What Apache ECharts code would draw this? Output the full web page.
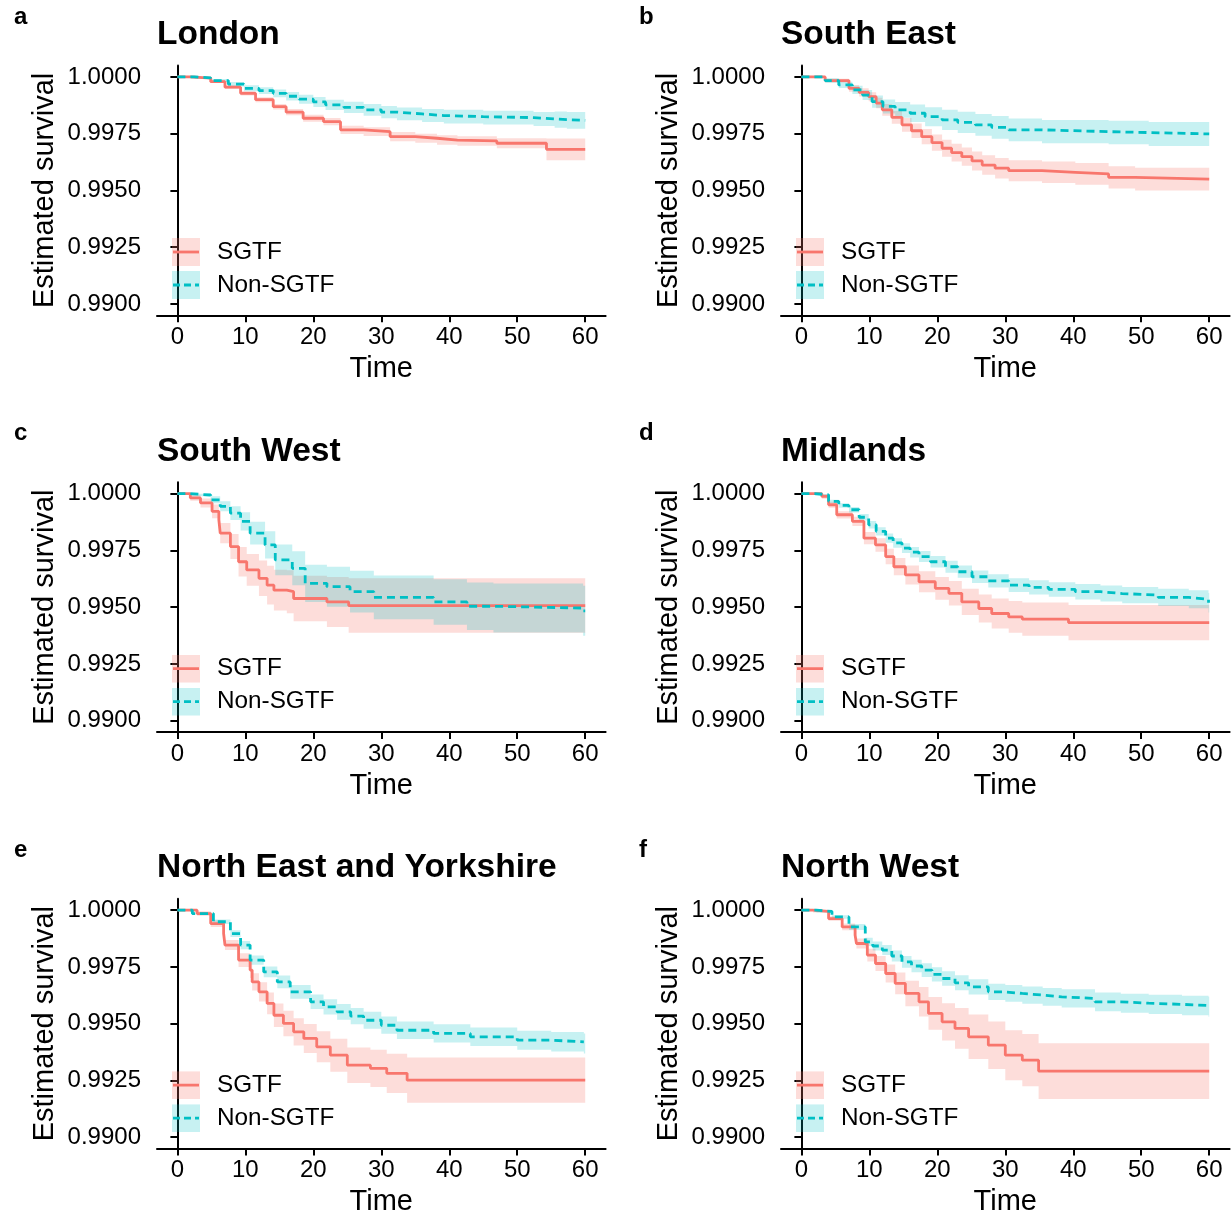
<!DOCTYPE html>
<html>
<head>
<meta charset="utf-8">
<script src="https://cdn.jsdelivr.net/npm/echarts@6/dist/echarts.min.js"></script>
<style>
html,body{margin:0;padding:0;background:#fff;}
#chart{width:1232px;height:1220px;}
</style>
</head>
<body>
<div id="chart"></div>
<script>
// ---------- DATA ----------
const panelLetters = ['a', 'b', 'c', 'd', 'e', 'f'];
const panelTitles = ['London', 'South East', 'South West', 'Midlands', 'North East and Yorkshire', 'North West'];
const groupNames = ['SGTF', 'Non-SGTF'];
const xTicks = [0, 10, 20, 30, 40, 50, 60];
const yTicks = [0.99, 0.9925, 0.995, 0.9975, 1.0];

// a: London
const aSgtfTime = [0, 2, 4.9, 7, 9.3, 11.5, 14.1, 16, 18.5, 21.5, 24, 27.4, 31.3, 35, 38.2, 41.2, 47, 54.3, 60];
const aSgtfSurv = [1.00000, 0.99995, 0.99979, 0.99955, 0.99928, 0.99900, 0.99869, 0.99845, 0.99818, 0.99803, 0.99767, 0.99759, 0.99737, 0.99730, 0.99722, 0.99718, 0.99708, 0.99681, 0.99681];
const aSgtfLow  = [1.00000, 0.99992, 0.99973, 0.99947, 0.99918, 0.99889, 0.99857, 0.99831, 0.99803, 0.99787, 0.99749, 0.99740, 0.99717, 0.99710, 0.99701, 0.99697, 0.99686, 0.99633, 0.99633];
const aSgtfHigh = [1.00000, 0.99998, 0.99985, 0.99963, 0.99938, 0.99911, 0.99881, 0.99859, 0.99833, 0.99819, 0.99785, 0.99778, 0.99757, 0.99750, 0.99743, 0.99739, 0.99730, 0.99729, 0.99729];
const aNonTime = [0, 2.5, 4.9, 7.5, 9.8, 12, 14.1, 16, 17.9, 20, 21.8, 24.5, 27.4, 30, 32.3, 36, 39.2, 45, 52.4, 55.5, 57.3, 60];
const aNonSurv = [1.00000, 0.99996, 0.99984, 0.99968, 0.99950, 0.99940, 0.99928, 0.99915, 0.99902, 0.99890, 0.99877, 0.99866, 0.99855, 0.99845, 0.99837, 0.99830, 0.99825, 0.99821, 0.99815, 0.99812, 0.99809, 0.99806];
const aNonLow  = [1.00000, 0.99993, 0.99977, 0.99958, 0.99937, 0.99925, 0.99911, 0.99896, 0.99882, 0.99868, 0.99854, 0.99841, 0.99829, 0.99818, 0.99809, 0.99801, 0.99795, 0.99791, 0.99784, 0.99776, 0.99772, 0.99768];
const aNonHigh = [1.00000, 0.99999, 0.99991, 0.99978, 0.99963, 0.99955, 0.99945, 0.99934, 0.99922, 0.99912, 0.99900, 0.99891, 0.99881, 0.99872, 0.99865, 0.99859, 0.99855, 0.99851, 0.99846, 0.99848, 0.99846, 0.99844];

// b: South East
const bSgtfTime = [0, 3.5, 7, 8.5, 9.9, 11, 11.9, 13.3, 14.8, 16.2, 17.7, 19.2, 20.7, 22.1, 23.6, 25.1, 26.6, 28.5, 30.5, 35.4, 40.3, 45.2, 49.1, 60];
const bSgtfSurv = [1.00000, 0.99984, 0.99950, 0.99932, 0.99913, 0.99885, 0.99855, 0.99822, 0.99789, 0.99763, 0.99737, 0.99711, 0.99686, 0.99667, 0.99649, 0.99630, 0.99612, 0.99598, 0.99587, 0.99580, 0.99573, 0.99558, 0.99550, 0.99550];
const bSgtfLow  = [1.00000, 0.99976, 0.99935, 0.99914, 0.99893, 0.99862, 0.99829, 0.99794, 0.99759, 0.99731, 0.99703, 0.99675, 0.99649, 0.99628, 0.99609, 0.99588, 0.99569, 0.99553, 0.99541, 0.99533, 0.99525, 0.99509, 0.99500, 0.99500];
const bSgtfHigh = [1.00000, 0.99992, 0.99965, 0.99950, 0.99933, 0.99908, 0.99881, 0.99850, 0.99819, 0.99795, 0.99771, 0.99747, 0.99723, 0.99706, 0.99689, 0.99672, 0.99655, 0.99643, 0.99633, 0.99627, 0.99621, 0.99607, 0.99600, 0.99600];
const bNonTime = [0, 3.5, 5.5, 7.5, 9, 10.4, 12, 13.8, 16, 18.2, 20.7, 23, 25.6, 28, 30.5, 35.4, 45.2, 51.1, 60];
const bNonSurv = [1.00000, 0.99984, 0.99965, 0.99943, 0.99920, 0.99891, 0.99870, 0.99855, 0.99840, 0.99825, 0.99811, 0.99800, 0.99789, 0.99778, 0.99767, 0.99759, 0.99755, 0.99749, 0.99749];
const bNonLow  = [1.00000, 0.99974, 0.99951, 0.99925, 0.99898, 0.99864, 0.99839, 0.99820, 0.99801, 0.99783, 0.99766, 0.99753, 0.99741, 0.99728, 0.99717, 0.99708, 0.99703, 0.99696, 0.99696];
const bNonHigh = [1.00000, 0.99994, 0.99979, 0.99961, 0.99942, 0.99918, 0.99901, 0.99890, 0.99879, 0.99867, 0.99856, 0.99847, 0.99837, 0.99828, 0.99817, 0.99810, 0.99807, 0.99802, 0.99802];

// c: South West
const cSgtfTime = [0, 1.9, 3.4, 5.1, 6.1, 6.3, 7.8, 9.0, 10.2, 12, 13.2, 14.2, 16.1, 17.1, 22, 25.2, 60];
const cSgtfSurv = [1.00000, 0.99981, 0.99959, 0.99922, 0.99885, 0.99826, 0.99767, 0.99700, 0.99664, 0.99627, 0.99597, 0.99575, 0.99568, 0.99538, 0.99523, 0.99507, 0.99507];
const cSgtfLow  = [1.00000, 0.99969, 0.99939, 0.99892, 0.99847, 0.99781, 0.99712, 0.99635, 0.99594, 0.99549, 0.99512, 0.99485, 0.99473, 0.99438, 0.99413, 0.99387, 0.99387];
const cSgtfHigh = [1.00000, 0.99993, 0.99979, 0.99952, 0.99923, 0.99871, 0.99822, 0.99765, 0.99734, 0.99705, 0.99682, 0.99665, 0.99663, 0.99638, 0.99633, 0.99627, 0.99627];
const cNonTime = [0, 1.9, 4.9, 6.3, 7.8, 9.3, 10.7, 12.9, 14.4, 16.9, 18.8, 22, 25.4, 28.9, 37.7, 42.6, 46.5, 59.7, 60];
const cNonSurv = [1.00000, 0.99994, 0.99973, 0.99944, 0.99914, 0.99878, 0.99826, 0.99774, 0.99708, 0.99671, 0.99605, 0.99590, 0.99568, 0.99543, 0.99523, 0.99504, 0.99496, 0.99484, 0.99484];
const cNonLow  = [1.00000, 0.99988, 0.99958, 0.99922, 0.99884, 0.99838, 0.99776, 0.99714, 0.99640, 0.99596, 0.99523, 0.99502, 0.99476, 0.99447, 0.99423, 0.99399, 0.99388, 0.99374, 0.99374];
const cNonHigh = [1.00000, 1.00000, 0.99988, 0.99966, 0.99944, 0.99918, 0.99876, 0.99834, 0.99776, 0.99746, 0.99687, 0.99678, 0.99660, 0.99639, 0.99623, 0.99609, 0.99604, 0.99594, 0.99594];

// d: Midlands
const dSgtfTime = [0, 3, 4, 5.2, 7.5, 9.2, 10.9, 12.4, 13.6, 15.3, 17.3, 19.7, 21.7, 23.6, 26.1, 28, 30.5, 32.5, 39.3, 60];
const dSgtfSurv = [1.00000, 0.99988, 0.99951, 0.99907, 0.99878, 0.99804, 0.99774, 0.99723, 0.99678, 0.99642, 0.99612, 0.99583, 0.99561, 0.99523, 0.99494, 0.99472, 0.99457, 0.99447, 0.99432, 0.99432];
const dSgtfLow  = [1.00000, 0.99978, 0.99938, 0.99891, 0.99858, 0.99777, 0.99744, 0.99689, 0.99640, 0.99600, 0.99566, 0.99533, 0.99507, 0.99465, 0.99432, 0.99406, 0.99387, 0.99374, 0.99354, 0.99354];
const dSgtfHigh = [1.00000, 0.99998, 0.99964, 0.99923, 0.99898, 0.99831, 0.99804, 0.99757, 0.99716, 0.99684, 0.99658, 0.99633, 0.99615, 0.99581, 0.99556, 0.99538, 0.99527, 0.99520, 0.99510, 0.99510];
const dNonTime = [0, 2, 4, 5.5, 7, 8.5, 9.9, 11, 12.4, 13.5, 14.8, 16, 17.3, 19, 21.2, 23, 25.1, 27.5, 30.5, 33.5, 36.4, 40.3, 44, 47.2, 52.5, 57, 59.9, 60];
const dNonSurv = [1.00000, 0.99995, 0.99966, 0.99948, 0.99929, 0.99896, 0.99863, 0.99834, 0.99804, 0.99783, 0.99760, 0.99742, 0.99723, 0.99700, 0.99678, 0.99656, 0.99634, 0.99616, 0.99597, 0.99587, 0.99578, 0.99568, 0.99560, 0.99553, 0.99543, 0.99535, 0.99519, 0.99519];
const dNonLow  = [1.00000, 0.99992, 0.99959, 0.99938, 0.99917, 0.99882, 0.99847, 0.99816, 0.99784, 0.99762, 0.99738, 0.99719, 0.99699, 0.99675, 0.99652, 0.99629, 0.99606, 0.99587, 0.99567, 0.99556, 0.99546, 0.99534, 0.99525, 0.99517, 0.99505, 0.99495, 0.99476, 0.99476];
const dNonHigh = [1.00000, 0.99998, 0.99973, 0.99958, 0.99941, 0.99910, 0.99879, 0.99852, 0.99824, 0.99804, 0.99782, 0.99765, 0.99747, 0.99725, 0.99704, 0.99683, 0.99662, 0.99645, 0.99627, 0.99618, 0.99610, 0.99602, 0.99595, 0.99589, 0.99581, 0.99575, 0.99562, 0.99562];

// e: North East and Yorkshire
const eSgtfTime = [0, 2.9, 4.9, 6.8, 7, 9, 10.7, 11, 12, 13.2, 14.2, 15.6, 17.1, 18.6, 20.5, 22.5, 25, 28.4, 30.8, 33.8, 60];
const eSgtfSurv = [1.00000, 0.99985, 0.99941, 0.99897, 0.99846, 0.99780, 0.99736, 0.99684, 0.99640, 0.99589, 0.99537, 0.99501, 0.99464, 0.99435, 0.99398, 0.99361, 0.99317, 0.99303, 0.99281, 0.99251, 0.99251];
const eSgtfLow  = [1.00000, 0.99975, 0.99926, 0.99877, 0.99824, 0.99750, 0.99701, 0.99646, 0.99598, 0.99541, 0.99485, 0.99445, 0.99404, 0.99371, 0.99330, 0.99288, 0.99239, 0.99221, 0.99195, 0.99151, 0.99151];
const eSgtfHigh = [1.00000, 0.99995, 0.99956, 0.99917, 0.99868, 0.99810, 0.99771, 0.99722, 0.99682, 0.99637, 0.99589, 0.99557, 0.99524, 0.99499, 0.99466, 0.99434, 0.99395, 0.99385, 0.99367, 0.99351, 0.99351];
const eNonTime = [0, 2.2, 5.3, 7.8, 9.3, 10.7, 12.7, 14.7, 16.6, 19.6, 21.5, 23.5, 25.5, 27.4, 30, 32.3, 37.7, 43.1, 50, 55, 59.8, 60];
const eNonSurv = [1.00000, 0.99985, 0.99949, 0.99897, 0.99846, 0.99780, 0.99728, 0.99684, 0.99640, 0.99596, 0.99574, 0.99552, 0.99533, 0.99515, 0.99493, 0.99471, 0.99457, 0.99442, 0.99427, 0.99420, 0.99413, 0.99413];
const eNonLow  = [1.00000, 0.99980, 0.99939, 0.99882, 0.99828, 0.99760, 0.99704, 0.99656, 0.99610, 0.99564, 0.99540, 0.99517, 0.99497, 0.99478, 0.99455, 0.99432, 0.99417, 0.99401, 0.99385, 0.99377, 0.99369, 0.99369];
const eNonHigh = [1.00000, 0.99990, 0.99959, 0.99912, 0.99864, 0.99800, 0.99752, 0.99712, 0.99670, 0.99628, 0.99608, 0.99587, 0.99569, 0.99552, 0.99531, 0.99510, 0.99497, 0.99483, 0.99469, 0.99463, 0.99457, 0.99457];

// f: North West
const fSgtfTime = [0, 1.7, 4, 6, 7.9, 8.1, 9.7, 10.9, 12.4, 13.8, 15.3, 17.3, 18.7, 20.7, 22.6, 24.6, 27.5, 30, 32.5, 34.9, 60];
const fSgtfSurv = [1.00000, 0.99995, 0.99963, 0.99926, 0.99890, 0.99853, 0.99802, 0.99765, 0.99721, 0.99677, 0.99633, 0.99596, 0.99545, 0.99508, 0.99479, 0.99442, 0.99405, 0.99361, 0.99339, 0.99291, 0.99291];
const fSgtfLow  = [1.00000, 0.99990, 0.99953, 0.99911, 0.99870, 0.99831, 0.99774, 0.99732, 0.99681, 0.99629, 0.99577, 0.99531, 0.99473, 0.99426, 0.99389, 0.99344, 0.99300, 0.99251, 0.99224, 0.99168, 0.99168];
const fSgtfHigh = [1.00000, 1.00000, 0.99973, 0.99941, 0.99910, 0.99875, 0.99830, 0.99798, 0.99761, 0.99725, 0.99689, 0.99661, 0.99617, 0.99590, 0.99569, 0.99540, 0.99510, 0.99471, 0.99454, 0.99414, 0.99414];
const fNonTime = [0, 2.2, 4.5, 7, 9.4, 10.5, 11.9, 13.3, 14.8, 16.2, 17.7, 19.2, 20.7, 22.6, 24.6, 27.5, 30, 32.5, 35.5, 38.3, 43.2, 47, 51.1, 56, 59.9, 60];
const fNonSurv = [1.00000, 0.99994, 0.99970, 0.99926, 0.99860, 0.99842, 0.99824, 0.99798, 0.99772, 0.99754, 0.99736, 0.99717, 0.99699, 0.99680, 0.99662, 0.99640, 0.99633, 0.99626, 0.99618, 0.99611, 0.99596, 0.99590, 0.99585, 0.99580, 0.99574, 0.99574];
const fNonLow  = [1.00000, 0.99990, 0.99962, 0.99913, 0.99842, 0.99822, 0.99802, 0.99774, 0.99746, 0.99726, 0.99706, 0.99686, 0.99667, 0.99647, 0.99628, 0.99604, 0.99596, 0.99588, 0.99579, 0.99571, 0.99555, 0.99548, 0.99543, 0.99537, 0.99530, 0.99530];
const fNonHigh = [1.00000, 0.99998, 0.99978, 0.99939, 0.99878, 0.99862, 0.99846, 0.99822, 0.99798, 0.99782, 0.99766, 0.99748, 0.99731, 0.99713, 0.99696, 0.99676, 0.99670, 0.99664, 0.99657, 0.99651, 0.99637, 0.99632, 0.99627, 0.99623, 0.99618, 0.99618];

// ---------- BUILD ----------
const panelData = [
  [[aSgtfTime, aSgtfSurv, aSgtfLow, aSgtfHigh], [aNonTime, aNonSurv, aNonLow, aNonHigh]],
  [[bSgtfTime, bSgtfSurv, bSgtfLow, bSgtfHigh], [bNonTime, bNonSurv, bNonLow, bNonHigh]],
  [[cSgtfTime, cSgtfSurv, cSgtfLow, cSgtfHigh], [cNonTime, cNonSurv, cNonLow, cNonHigh]],
  [[dSgtfTime, dSgtfSurv, dSgtfLow, dSgtfHigh], [dNonTime, dNonSurv, dNonLow, dNonHigh]],
  [[eSgtfTime, eSgtfSurv, eSgtfLow, eSgtfHigh], [eNonTime, eNonSurv, eNonLow, eNonHigh]],
  [[fSgtfTime, fSgtfSurv, fSgtfLow, fSgtfHigh], [fNonTime, fNonSurv, fNonLow, fNonHigh]]
];

const FONT = '"Liberation Sans", Arial, Helvetica, sans-serif';
const COLORS = ['#F8766D', '#00BFC4'];
const BAND = ['rgba(248,118,109,0.25)', 'rgba(0,191,196,0.22)'];
const colLeft = [157, 781];
const rowTop = [65.6, 482.3, 898.8];
const gridW = 448.6, gridH = 249.7;
const rowShift = [0, 416.7, 833.2];

function iconSvg(color, fill, dashed) {
  const svg = '<svg xmlns="http://www.w3.org/2000/svg" width="40" height="28" viewBox="0 0 40 28">' +
    '<rect x="0" y="0" width="28" height="28" fill="' + fill + '"/>' +
    '<line x1="1" y1="14" x2="27" y2="14" stroke="' + color + '" stroke-width="2.8"' +
    (dashed ? ' stroke-dasharray="7 4"' : '') + '/></svg>';
  return 'image://data:image/svg+xml;charset=utf-8,' + encodeURIComponent(svg);
}
const icons = [iconSvg(COLORS[0], BAND[0], false), iconSvg(COLORS[1], BAND[1], true)];

// stepped confidence ribbon drawn as one polygon through the axis scales
function bandRenderer(time, low, high, fill) {
  return function (params, api) {
    if (params.dataIndex !== 0) return null;
    const n = time.length, pts = [];
    for (let k = 0; k < n; k++) {
      const x1 = k < n - 1 ? time[k + 1] : time[k];
      pts.push(api.coord([time[k], high[k]]), api.coord([x1, high[k]]));
    }
    for (let k = n - 1; k >= 0; k--) {
      const x1 = k < n - 1 ? time[k + 1] : time[k];
      pts.push(api.coord([x1, low[k]]), api.coord([time[k], low[k]]));
    }
    return {type: 'polygon', shape: {points: pts}, style: {fill: fill}, silent: true};
  };
}

const grid = [], xAxis = [], yAxis = [], title = [], legend = [], bandSeries = [], lineSeries = [];

panelData.forEach((groups, i) => {
  const col = i % 2, row = Math.floor(i / 2);
  grid.push({left: colLeft[col], top: rowTop[row], width: gridW, height: gridH, containLabel: false});
  xAxis.push({
    type: 'value', gridIndex: i, min: -3, max: 63,
    axisLine: {show: true, lineStyle: {color: '#000', width: 2}},
    axisTick: {show: true, length: 7, customValues: xTicks, lineStyle: {color: '#000', width: 2}},
    axisLabel: {customValues: xTicks, fontSize: 24, color: '#000', margin: 10, fontFamily: FONT},
    splitLine: {show: false},
    name: 'Time', nameLocation: 'middle', nameGap: 39,
    nameTextStyle: {fontSize: 29, color: '#000', fontFamily: FONT}
  });
  yAxis.push({
    type: 'value', gridIndex: i, min: 0.9895, max: 1.0005,
    axisLine: {show: true, lineStyle: {color: '#000', width: 2}},
    axisTick: {show: true, length: 7, customValues: yTicks, lineStyle: {color: '#000', width: 2}},
    axisLabel: {customValues: yTicks, fontSize: 24, color: '#000', margin: 16, fontFamily: FONT,
      formatter: v => Number(v).toFixed(4)},
    splitLine: {show: false},
    name: 'Estimated survival', nameLocation: 'middle', nameGap: 98,
    nameTextStyle: {fontSize: 29, color: '#000', fontFamily: FONT}
  });
  title.push({
    text: panelTitles[i], left: colLeft[col], top: 18 + rowShift[row], padding: 0,
    textStyle: {fontSize: 33.5, fontWeight: 'bold', color: '#000', fontFamily: FONT}
  });
  title.push({
    text: panelLetters[i], left: col === 0 ? 14 : 639, top: 5 + rowShift[row], padding: 0,
    textStyle: {fontSize: 24, fontWeight: 'bold', color: '#000', fontFamily: FONT}
  });
  legend.push({
    orient: 'vertical', left: colLeft[col] + 15, top: 238 + rowShift[row], padding: 0,
    itemWidth: 40, itemHeight: 28, itemGap: 5, selectedMode: false,
    textStyle: {fontSize: 24.3, color: '#000', fontFamily: FONT},
    data: groupNames.map((n, g) => ({name: n, icon: icons[g]}))
  });
  groups.forEach((arr, g) => {
    const [time, surv, low, high] = arr;
    bandSeries.push({
      type: 'custom', name: groupNames[g] + ' band', xAxisIndex: i, yAxisIndex: i,
      data: time.map((t, k) => [t, low[k], high[k]]),
      encode: {x: 0, y: [1, 2]},
      renderItem: bandRenderer(time, low, high, BAND[g]),
      silent: true, z: 1
    });
    lineSeries.push({
      type: 'line', name: groupNames[g], xAxisIndex: i, yAxisIndex: i,
      data: time.map((t, k) => [t, surv[k]]), step: 'end', symbol: 'none', silent: true,
      itemStyle: {color: COLORS[g]},
      lineStyle: {color: COLORS[g], width: 2.8, type: g === 0 ? 'solid' : [8, 5], cap: 'butt'}, z: 3
    });
  });
});

const chart = echarts.init(document.getElementById('chart'), null, {renderer: 'canvas'});
chart.setOption({
  backgroundColor: '#fff',
  animation: false,
  textStyle: {fontFamily: FONT},
  title, legend, grid, xAxis, yAxis,
  series: bandSeries.concat(lineSeries)
});
</script>
</body>
</html>
